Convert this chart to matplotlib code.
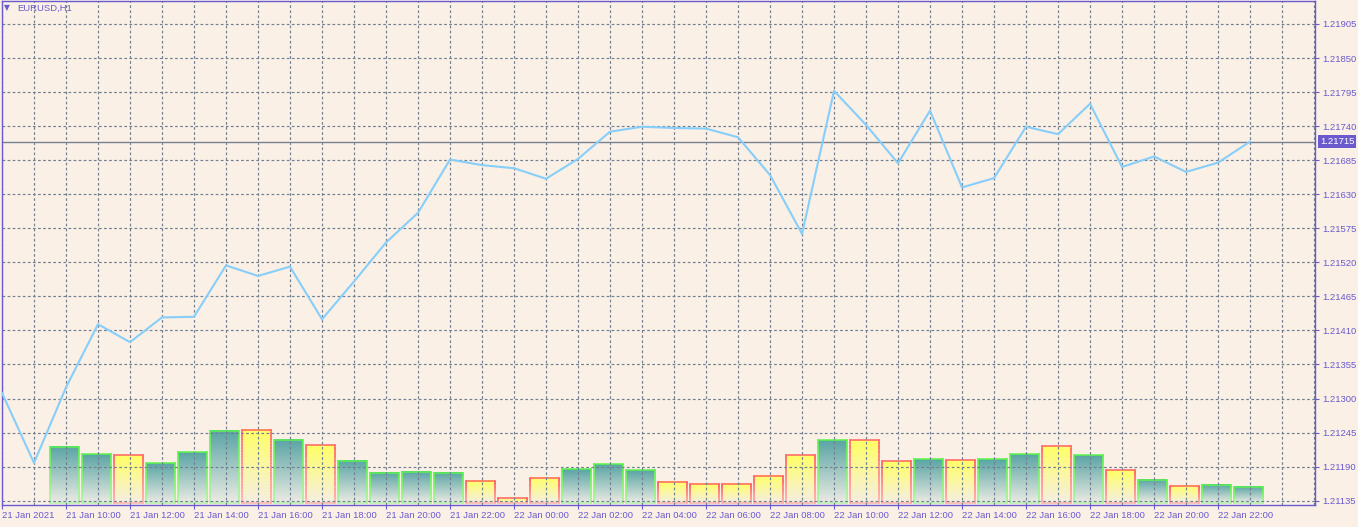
import matplotlib.pyplot as plt
import numpy as np
from matplotlib.collections import LineCollection
from matplotlib.colors import LinearSegmentedColormap, to_rgba
from matplotlib.transforms import blended_transform_factory

plt.rcParams['font.family'] = ['Liberation Sans', 'DejaVu Sans']

# EURUSD H1 closes, 21 Jan 08:00 -> 22 Jan 23:00
closes = [1.21309, 1.21196, 1.21318, 1.21420, 1.21391, 1.21431, 1.21432, 1.21515,
          1.21498, 1.21513, 1.21428, 1.21489, 1.21552, 1.21600, 1.21686, 1.21677,
          1.21672, 1.21655, 1.21687, 1.21731, 1.21739, 1.21737, 1.21736, 1.21722,
          1.21661, 1.21566, 1.21797, 1.21742, 1.21680, 1.21765, 1.21641, 1.21656,
          1.21739, 1.21727, 1.21776, 1.21674, 1.21691, 1.21666, 1.21681, 1.21715]

# tick volumes, 21 Jan 10:00 -> 22 Jan 23:00
volumes = [5660, 4900, 4800, 4000, 5100, 7260, 7360, 6360, 5800, 4260,
           3000, 3160, 3080, 2200, 500, 2500, 3400, 3900, 3300, 2100,
           1900, 1900, 2700, 4800, 6300, 6300, 4200, 4400, 4300, 4400,
           4900, 5700, 4800, 3300, 2300, 1700, 1800, 1600]
# 1 = up bar (teal), 0 = down bar (yellow)
up = [1, 1, 0, 1, 1, 1, 0, 1, 0, 1,
      1, 1, 1, 0, 0, 0, 1, 1, 1, 0,
      0, 0, 0, 0, 1, 0, 0, 1, 0, 1,
      1, 0, 1, 0, 1, 0, 1, 1]

tick_labels = ['21 Jan 2021', '21 Jan 10:00', '21 Jan 12:00', '21 Jan 14:00', '21 Jan 16:00',
               '21 Jan 18:00', '21 Jan 20:00', '21 Jan 22:00', '22 Jan 00:00', '22 Jan 02:00',
               '22 Jan 04:00', '22 Jan 06:00', '22 Jan 08:00', '22 Jan 10:00', '22 Jan 12:00',
               '22 Jan 14:00', '22 Jan 16:00', '22 Jan 18:00', '22 Jan 20:00', '22 Jan 22:00']
price_ticks = [1.21135, 1.21190, 1.21245, 1.21300, 1.21355, 1.21410, 1.21465, 1.21520,
               1.21575, 1.21630, 1.21685, 1.21740, 1.21795, 1.21850, 1.21905]
last_price = 1.21715

bg = '#faf0e6'
fg = '#6a5acd'
gridc = '#708090'

fig = plt.figure(figsize=(13.58, 5.27), dpi=100, facecolor=bg)
ax = fig.add_axes([2 / 1358, 22 / 527, 1313 / 1358, 504 / 527])
ax2 = ax.twinx()
ax.set_zorder(2)
ax2.set_zorder(1)
ax.patch.set_visible(False)
ax2.patch.set_facecolor(bg)


def edge_gradient(x0, x1, h, top_c, bot_c, n=24):
    # outline of a bar whose colour fades towards the bottom
    ys = np.linspace(0, h, n + 1)
    c0 = np.array(to_rgba(bot_c))
    c1 = np.array(to_rgba(top_c))
    segs, cols = [], []
    for j in range(n):
        t = (j + 0.5) / n
        c = c0 + (c1 - c0) * t
        segs.append([(x0, ys[j]), (x0, ys[j + 1])])
        segs.append([(x1, ys[j]), (x1, ys[j + 1])])
        cols += [c, c]
    segs.append([(x0, h), (x1, h)])
    cols.append(c1)
    segs.append([(x0, 0), (x1, 0)])
    cols.append(c0)
    return LineCollection(segs, colors=cols, lw=1.1, zorder=2, capstyle='projecting')


# volume bars with vertical gradient
grad = np.linspace(0, 1, 64).reshape(-1, 1)
cmap_up = LinearSegmentedColormap.from_list('up', ['#ebebe3', '#5aa5a5'])
cmap_dn = LinearSegmentedColormap.from_list('dn', ['#f6eee2', '#ffff66'])
for i, v in enumerate(volumes):
    k = i + 2
    cm = cmap_up if up[i] else cmap_dn
    ax2.imshow(grad, extent=[k - 0.5, k + 0.4, 0, v], origin='lower', aspect='auto',
               cmap=cm, zorder=1, interpolation='bilinear')
    if up[i]:
        ax2.add_collection(edge_gradient(k - 0.5, k + 0.4, v, '#5cf54c', '#b4f2a8'))
    else:
        ax2.add_collection(edge_gradient(k - 0.5, k + 0.4, v, '#ff6464', '#ffb4a8'))
ax2.set_ylim(-170, 50230)
ax2.set_yticks([])
for s in ax2.spines.values():
    s.set_visible(False)

# price line
ax.plot(range(len(closes)), closes, color='#87cefa', lw=1.5, zorder=3)
ax.axhline(last_price, color='#7a8090', lw=1, zorder=2)

ax.set_xlim(0, 41.03)
ax.set_ylim(1.21128, 1.219421)

ax.set_xticks(np.arange(0, 39, 2))
ax.set_xticklabels(tick_labels, ha='left')
ax.set_xticks(np.arange(1, 42), minor=True)
ax.yaxis.tick_right()
ax.set_yticks(price_ticks)
ax.set_yticklabels([f'{p:.5f}' for p in price_ticks])

ax.grid(True, which='both', axis='x', color=gridc, lw=0.85, linestyle=(0, (2.3, 2.0)))
ax.grid(True, which='major', axis='y', color=gridc, lw=0.85, linestyle=(0, (2.3, 2.0)))
ax.tick_params(axis='x', which='minor', length=0)
ax.tick_params(axis='both', which='major', length=3, width=0.8, color=fg,
               labelcolor=fg, labelsize=6.8, pad=1.5, direction='out')
ax.tick_params(axis='y', pad=2)

for s in ax.spines.values():
    s.set_color(fg)
    s.set_linewidth(1)

# current price box on the right scale
tr = blended_transform_factory(ax.transAxes, ax.transData)
ax.text(1.0 + 5 / 1313, last_price, f'{last_price:.5f}', transform=tr, ha='left', va='center',
        fontsize=6.8, color='white', clip_on=False,
        bbox=dict(boxstyle='square,pad=0.22', fc=fg, ec='none'))

# symbol caption
fig.text(4 / 1358, 1 - 8 / 527, '▼', family='DejaVu Sans', fontsize=5.5, color=fg, va='center')
fig.text(17 / 1358, 1 - 8 / 527, 'EURUSD,H1', fontsize=6.8, color=fg, va='center')

fig.savefig('out.png', dpi=100, facecolor=bg)
